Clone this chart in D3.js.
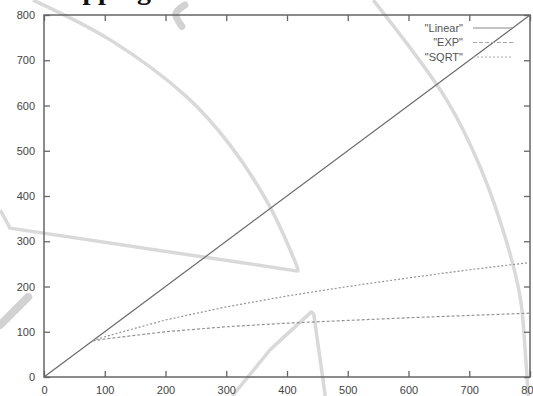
<!DOCTYPE html>
<html>
<head>
<meta charset="utf-8">
<script src="https://cdn.jsdelivr.net/npm/d3@7"></script>
<style>
  body { margin: 0; background: #fff; }
  svg { display: block; }
</style>
</head>
<body>
<div id="graph"></div>
<script>
// ticks
const xTicks = [0, 100, 200, 300, 400, 500, 600, 700, 800];
const yTicks = [0, 100, 200, 300, 400, 500, 600, 700, 800];

// series
const linearX = [0, 800];
const linearY = [0, 800];
const expX = [80, 100, 200, 300, 400, 500, 600, 700, 800];
const expY = [80, 84, 100, 111, 119, 125, 131, 136, 141];
const sqrtX = [80, 100, 200, 300, 400, 500, 600, 700, 800];
const sqrtY = [80, 89, 126, 155, 179, 200, 219, 237, 253];
const legendLabels = ['"Linear"', '"EXP"', '"SQRT"'];

// faint background strokes behind the plot (in plot units)
const arcLeft = [[-18, 833], [109, 745], [235, 619], [306, 513], [372, 376], [417, 243], [418, 234], [-56, 329], [-72, 369]];
const arcRight = [[542, 833], [663, 612], [718, 464], [762, 296], [784, 175], [793, 40], [797, -42]];
const peak = [[310, -42], [372, 60], [440, 144], [444, 139], [463, -42]];
const blob = [[-72, 115], [-26, 177]];
const blobTop = [[232, 822], [217, 803], [227, 775]];

const dimension = { width: 486, height: 362, margin: { top: 15, left: 44 } };

function axisX(dimension) {
  return d3.scaleLinear().domain([0, 800]).range([0, dimension.width]);
}

function axisY(dimension) {
  return d3.scaleLinear().domain([0, 800]).range([dimension.height, 0]);
}

function pairs(xs, ys) {
  return xs.map((x, i) => [x, ys[i]]);
}

function drawFaint(context, axis) {
  const curve = d3.line()
    .x(d => axis.x(d[0]))
    .y(d => axis.y(d[1]))
    .curve(d3.curveCatmullRom);
  const straight = d3.line()
    .x(d => axis.x(d[0]))
    .y(d => axis.y(d[1]));
  const faint = "#d9d9d9";

  context.append("path")
    .attr("d", curve(arcLeft.slice(0, 6)))
    .attr("fill", "none").attr("stroke", faint).attr("stroke-width", 3.5);
  context.append("path")
    .attr("d", straight(arcLeft.slice(5)))
    .attr("fill", "none").attr("stroke", faint).attr("stroke-width", 3.5)
    .attr("stroke-linejoin", "round");
  context.append("path")
    .attr("d", curve(arcRight))
    .attr("fill", "none").attr("stroke", faint).attr("stroke-width", 3.5);
  context.append("path")
    .attr("d", straight(peak))
    .attr("fill", "none").attr("stroke", faint).attr("stroke-width", 3.5)
    .attr("stroke-linejoin", "round");
  context.append("path")
    .attr("d", straight(blob))
    .attr("fill", "none").attr("stroke", "#d2d2d2").attr("stroke-width", 8)
    .attr("stroke-linecap", "round");
  context.append("path")
    .attr("d", curve(blobTop))
    .attr("fill", "none").attr("stroke", "#d2d2d2").attr("stroke-width", 7)
    .attr("stroke-linecap", "round");
}

function drawAxis(context, axis, dimension) {
  const { width, height } = dimension;

  context.append("g")
    .attr("transform", `translate(0,${height})`)
    .call(d3.axisBottom(axis.x).tickValues(xTicks).tickSize(-6).tickPadding(9));
  context.append("g")
    .call(d3.axisTop(axis.x).tickValues(xTicks).tickSize(-6).tickFormat(""));
  context.append("g")
    .call(d3.axisLeft(axis.y).tickValues(yTicks).tickSize(-6).tickPadding(9));
  context.append("g")
    .attr("transform", `translate(${width},0)`)
    .call(d3.axisRight(axis.y).tickValues(yTicks).tickSize(-6).tickFormat(""));

  context.selectAll(".domain").remove();
  context.selectAll(".tick line").attr("stroke", "#666").attr("stroke-width", 1.3);
  context.selectAll(".tick text")
    .attr("fill", "#444")
    .style("font-family", "'Liberation Sans', Arial, sans-serif")
    .style("font-size", "11px");

  context.append("rect")
    .attr("width", width)
    .attr("height", height)
    .attr("fill", "none")
    .attr("stroke", "#666")
    .attr("stroke-width", 1.5);
}

function drawLines(context, axis) {
  const line = d3.line()
    .x(d => axis.x(d[0]))
    .y(d => axis.y(d[1]));

  context.append("path")
    .attr("d", line(pairs(linearX, linearY)))
    .attr("fill", "none").attr("stroke", "#6a6a6a").attr("stroke-width", 1.2);
  context.append("path")
    .attr("d", line(pairs(expX, expY)))
    .attr("fill", "none").attr("stroke", "#949494").attr("stroke-width", 1.2)
    .attr("stroke-dasharray", "3,2");
  context.append("path")
    .attr("d", line(pairs(sqrtX, sqrtY)))
    .attr("fill", "none").attr("stroke", "#949494").attr("stroke-width", 1.2)
    .attr("stroke-dasharray", "2,2");
}

function drawLegend(context) {
  const styles = [
    { stroke: "#888", dash: null },
    { stroke: "#aaa", dash: "4,2" },
    { stroke: "#aaa", dash: "2,2" }
  ];
  const rows = context.append("g").selectAll("g")
    .data(legendLabels)
    .join("g")
    .attr("transform", (d, i) => `translate(0,${13 + i * 14.5})`);

  rows.append("text")
    .attr("x", 419)
    .attr("dy", "0.35em")
    .attr("text-anchor", "end")
    .attr("fill", "#555")
    .style("font-family", "'Liberation Sans', Arial, sans-serif")
    .style("font-size", "11px")
    .text(d => d);

  rows.append("line")
    .attr("x1", 429).attr("x2", 469)
    .attr("stroke", (d, i) => styles[i].stroke)
    .attr("stroke-width", 1.2)
    .attr("stroke-dasharray", (d, i) => styles[i].dash);
}

const svg = d3.select("#graph").append("svg")
  .attr("width", 533)
  .attr("height", 396);

// title sits mostly above the top edge; only descenders show
svg.append("text")
  .attr("x", 42)
  .attr("y", -1)
  .attr("fill", "#111")
  .style("font-family", "'Liberation Serif', 'Times New Roman', serif")
  .style("font-weight", "bold")
  .style("font-size", "28px")
  .text("Mapping functions");

const context = svg.append("g")
  .attr("transform", `translate(${dimension.margin.left}, ${dimension.margin.top})`);
const axis = { x: axisX(dimension), y: axisY(dimension) };

drawFaint(context, axis);
drawAxis(context, axis, dimension);
drawLines(context, axis);
drawLegend(context);
</script>
</body>
</html>
